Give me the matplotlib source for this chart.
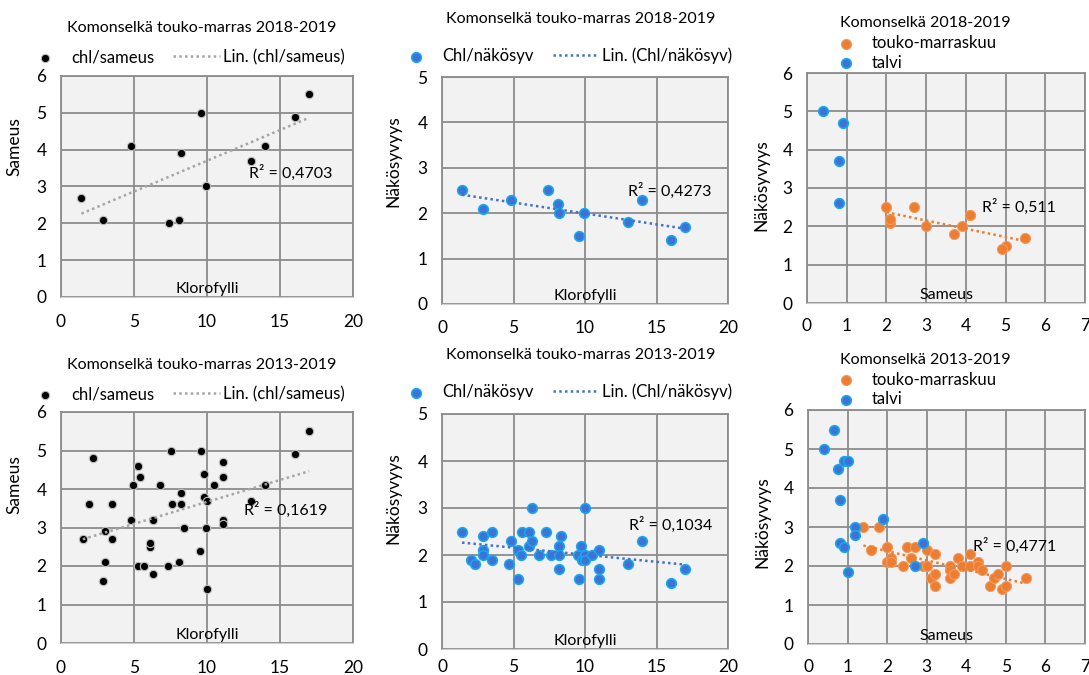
"""Komonselkä: klorofylli / sameus / näkösyvyys scatter panels (2018-2019 and 2013-2019)."""

import matplotlib.pyplot as plt
import numpy as np

plt.rcParams["font.family"] = ["Lato", "DejaVu Sans"]
plt.rcParams["font.size"] = 11

W, H = 1089, 675

# ---- 2018-2019, touko-marras (same samples in all three top panels) ----
chl_1819 = [1.4, 2.9, 4.8, 7.4, 8.1, 8.2, 9.6, 9.9, 13.0, 14.0, 16.0, 17.0]
sameus_1819 = [2.7, 2.1, 4.1, 2.0, 2.1, 3.9, 5.0, 3.0, 3.7, 4.1, 4.9, 5.5]
nakosyv_1819 = [2.5, 2.1, 2.3, 2.5, 2.2, 2.0, 1.5, 2.0, 1.8, 2.3, 1.4, 1.7]
talvi_sameus_1819 = [0.4, 0.9, 0.8, 0.8]
talvi_nakosyv_1819 = [5.0, 4.7, 3.7, 2.6]

# ---- 2013-2019 ----
chl_a_1319 = [2.2, 1.9, 3.5, 1.5, 3.0, 3.5, 3.0, 2.9, 4.8, 4.9, 5.3, 5.4, 5.3, 5.7,
              6.1, 6.1, 6.3, 6.3, 6.8, 7.3, 7.5, 7.6, 8.2, 8.2, 8.1, 8.4, 9.5, 9.6,
              9.8, 9.8, 10.0, 9.9, 10.0, 10.5, 11.1, 11.1, 11.1, 11.1, 13.0, 14.0,
              16.0, 17.0]
sameus_1319 = [4.8, 3.6, 3.6, 2.7, 2.9, 2.7, 2.1, 1.6, 3.2, 4.1, 4.6, 4.3, 2.0, 2.0,
               2.5, 2.6, 3.2, 1.8, 4.1, 2.0, 5.0, 3.6, 3.9, 3.6, 2.1, 3.0, 2.4, 5.0,
               4.4, 3.8, 3.7, 3.0, 1.4, 4.1, 4.7, 4.3, 3.2, 3.1, 3.7, 4.1, 4.9, 5.5]

chl_b_1319 = [1.4, 2.0, 2.3, 2.9, 2.9, 2.9, 3.5, 3.5, 4.7, 4.8, 5.3, 5.3, 5.5, 5.6,
              6.1, 6.1, 6.3, 6.3, 6.8, 7.3, 7.6, 8.2, 8.3, 8.2, 8.2, 9.5, 9.6, 9.7,
              9.8, 10.0, 10.0, 10.0, 10.5, 11.0, 11.0, 11.0, 13.0, 14.0, 16.0, 17.0]
nakosyv_1319 = [2.5, 1.9, 1.8, 2.4, 2.1, 2.0, 2.5, 1.9, 1.8, 2.3, 2.1, 1.5, 2.0, 2.5,
                2.5, 2.2, 3.0, 2.3, 2.0, 2.5, 2.0, 2.2, 2.4, 2.0, 1.7, 2.0, 1.5, 2.2,
                1.9, 3.0, 2.0, 1.9, 2.0, 2.1, 1.7, 1.5, 1.8, 2.3, 1.4, 1.7]

touko_sameus_1319 = [1.4, 1.8, 1.6, 2.0, 2.0, 2.1, 2.1, 2.4, 2.5, 2.7, 2.6, 2.9, 3.0,
                     3.0, 3.1, 3.2, 3.2, 3.2, 3.6, 3.6, 3.6, 3.7, 3.8, 3.9, 4.1, 4.1,
                     4.3, 4.3, 4.4, 4.6, 4.7, 4.8, 5.0, 4.9, 5.0, 5.5]
touko_nakosyv_1319 = [3.0, 3.0, 2.4, 2.5, 2.1, 2.2, 2.1, 2.0, 2.5, 2.5, 2.2, 2.0, 2.0,
                      2.4, 1.7, 1.8, 2.3, 1.5, 2.0, 1.9, 1.7, 1.8, 2.2, 2.0, 2.3, 2.0,
                      2.1, 2.0, 1.9, 1.5, 1.7, 1.8, 2.0, 1.4, 1.5, 1.7]
talvi_sameus_1319 = [0.65, 0.4, 0.9, 1.0, 0.75, 0.8, 1.9, 1.2, 1.2, 0.8, 0.9, 1.0, 2.9, 2.7]
talvi_nakosyv_1319 = [5.5, 5.0, 4.7, 4.7, 4.5, 3.7, 3.2, 3.0, 2.8, 2.6, 2.5, 1.85, 2.6, 2.0]

GRID = "#8c8c8c"
BG = "#f2f2f2"
TXT = 11.5
BLACK_PT = dict(s=36, facecolor="black", edgecolor="#c0c0c0", linewidths=0.8)
BLUE_PT = dict(s=48, facecolor="#3b73d6", edgecolor="#1aa6ec", linewidths=1.2)
ORANGE_PT = dict(s=52, facecolor="#ed7d31", edgecolor="#f29a5c", linewidths=0.8)


def fx(px):
    return px / W


def fy(py):
    return 1 - py / H


def style_axes(ax, xmax, ymax, xstep, xpad=12.5):
    ax.set_facecolor(BG)
    ax.set_xlim(0, xmax)
    ax.set_ylim(0, ymax)
    ax.set_xticks(np.arange(0, xmax + 1, xstep))
    ax.set_yticks(np.arange(0, ymax + 1, 1))
    ax.grid(True, color=GRID, lw=1.3)
    ax.set_axisbelow(True)
    for side in ("left", "top", "right"):
        ax.spines[side].set_color(GRID)
        ax.spines[side].set_linewidth(1.3)
    ax.spines["bottom"].set_color("#d0d0d0")
    ax.tick_params(length=0, labelsize=12.5)
    ax.tick_params(axis="x", pad=xpad)
    ax.tick_params(axis="y", pad=10.5)


def trend(ax, x, y, color, label=None):
    x = np.asarray(x)
    k, b = np.polyfit(x, np.asarray(y), 1)
    xs = np.array([x.min(), x.max()])
    ax.plot(xs, k * xs + b, color=color, lw=1.8, ls=(0, (1, 1.3)),
            zorder=4, label=label)


def labels(ax, xlabel, ylabel, ylab_xy, xlab_y=0.005):
    ax.set_xlabel(xlabel, va="bottom", fontsize=TXT)
    ax.xaxis.set_label_coords(0.5, xlab_y)
    ax.set_ylabel(ylabel, va="center", fontsize=12.5)
    ax.yaxis.set_label_coords(*ylab_xy)


def legend(ax, fig, left_px, y_px, ncol):
    ax.legend(loc="center left", bbox_to_anchor=(fx(left_px), fy(y_px)),
              bbox_transform=fig.transFigure, ncol=ncol, frameon=False,
              handlelength=2.8, handletextpad=0.15, columnspacing=1.15,
              borderpad=0, borderaxespad=0, labelspacing=0.22, fontsize=12)


fig = plt.figure(figsize=(W / 100, H / 100), dpi=100)

# axes boxes in pixels: left, top, right, bottom
boxes = [
    (61, 76, 353, 297), (442, 77, 728, 304), (807, 73, 1085, 303),
    (61, 412, 353, 643), (442, 414, 728, 649), (808, 410, 1085, 644),
]
axes = [fig.add_axes([fx(l), fy(b), (r - l) / W, (b - t) / H]) for l, t, r, b in boxes]

# --- chl / sameus ---
for ax, x, y, title, r2, r2_xy, title_y, ylab_y, leg_y in [
    (axes[0], chl_1819, sameus_1819, "Komonselkä touko-marras 2018-2019",
     "R² = 0,4703", (12.9, 3.37), 1.217, 0.68, 57),
    (axes[3], chl_a_1319, sameus_1319, "Komonselkä touko-marras 2013-2019",
     "R² = 0,1619", (12.5, 3.45), 1.203, 0.684, 394),
]:
    style_axes(ax, 20, 6, 5)
    ax.scatter(x, y, zorder=3, label="chl/sameus", **BLACK_PT)
    trend(ax, x, y, "#a5a5a5", label="Lin. (chl/sameus)")
    ax.text(*r2_xy, r2, va="center", ha="left", fontsize=TXT, zorder=5)
    ax.set_title(title, x=0.483, y=title_y, pad=0, va="center", fontsize=TXT)
    labels(ax, "Klorofylli", "Sameus", (-0.158, ylab_y))
    legend(ax, fig, 22, leg_y, 2)

# --- chl / näkösyvyys ---
for ax, x, y, title, r2, r2_xy, title_y, ylab_y, leg_y, xpad in [
    (axes[1], chl_1819, nakosyv_1819, "Komonselkä touko-marras 2018-2019",
     "R² = 0,4273", (13.0, 2.49), 1.2555, 0.63, 56, 11.5),
    (axes[4], chl_b_1319, nakosyv_1319, "Komonselkä touko-marras 2013-2019",
     "R² = 0,1034", (13.1, 2.64), 1.251, 0.643, 392, 7),
]:
    style_axes(ax, 20, 5, 5, xpad=xpad)
    ax.scatter(x, y, zorder=3, label="Chl/näkösyv", **BLUE_PT)
    trend(ax, x, y, "#4472c4", label="Lin. (Chl/näkösyv)")
    ax.text(*r2_xy, r2, va="center", ha="left", fontsize=TXT, zorder=5)
    ax.set_title(title, x=0.486, y=title_y, pad=0, va="center", fontsize=TXT)
    labels(ax, "Klorofylli", "Näkösyvyys", (-0.171, ylab_y))
    legend(ax, fig, 393, leg_y, 2)

# --- sameus / näkösyvyys, touko-marraskuu vs talvi ---
for ax, xo, yo, xb, yb, title, r2, r2_xy, title_y, ylab_y, leg_y in [
    (axes[2], sameus_1819, nakosyv_1819, talvi_sameus_1819, talvi_nakosyv_1819,
     "Komonselkä 2018-2019", "R² = 0,511", (4.41, 2.5), 1.217, 0.513, 53),
    (axes[5], touko_sameus_1319, touko_nakosyv_1319, talvi_sameus_1319,
     talvi_nakosyv_1319, "Komonselkä 2013-2019", "R² = 0,4771", (4.17, 2.51),
     1.214, 0.521, 389.5),
]:
    style_axes(ax, 7, 6, 1, xpad=10.5)
    ax.scatter(xo, yo, zorder=3, label="touko-marraskuu", **ORANGE_PT)
    ax.scatter(xb, yb, zorder=3, label="talvi", **BLUE_PT)
    trend(ax, xo, yo, "#ed7d31")
    ax.text(*r2_xy, r2, va="center", ha="left", fontsize=TXT, zorder=5)
    ax.set_title(title, x=0.117, y=title_y, pad=0, ha="left", va="center", fontsize=TXT)
    labels(ax, "Sameus", "Näkösyvyys", (-0.164, ylab_y))
    legend(ax, fig, 823, leg_y, 1)

fig.savefig("out.png", dpi=100)
